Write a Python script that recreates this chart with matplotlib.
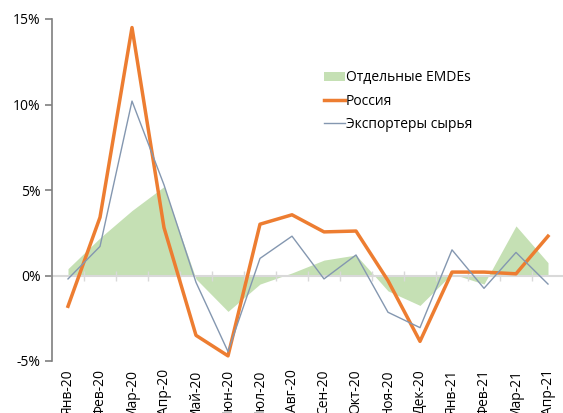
import matplotlib
matplotlib.use("Agg")
import matplotlib.pyplot as plt
from matplotlib.patches import Patch
from matplotlib.lines import Line2D

plt.rcParams['font.family'] = ['Open Sans', 'DejaVu Sans']

months = ['Янв-20', 'Фев-20', 'Мар-20', 'Апр-20', 'Май-20', 'Июн-20', 'Июл-20', 'Авг-20',
          'Сен-20', 'Окт-20', 'Ноя-20', 'Дек-20', 'Янв-21', 'Фев-21', 'Мар-21', 'Апр-21']
emdes = [0.4, 2.2, 3.8, 5.2, -0.2, -2.1, -0.5, 0.15, 0.9, 1.2, -0.9, -1.75, 0.1, -0.5, 2.9, 0.75]
russia = [-1.8, 3.4, 14.5, 2.8, -3.5, -4.7, 3.0, 3.55, 2.55, 2.6, -0.3, -3.85, 0.2, 0.2, 0.1, 2.3]
exporters = [-0.2, 1.7, 10.2, 5.3, -0.4, -4.45, 1.0, 2.3, -0.2, 1.2, -2.15, -3.05, 1.5, -0.75, 1.35, -0.5]

x = list(range(len(months)))

fig = plt.figure(figsize=(5.63, 4.13), dpi=100)
ax = fig.add_axes([52 / 563, 52 / 413, 512 / 563, 342 / 413])

ax.fill_between(x, 0, emdes, color='#c5e0b4', linewidth=0, zorder=1)
ax.plot(x, russia, color='#ed7d31', linewidth=2.5, zorder=3)
ax.plot(x, exporters, color='#8497b0', linewidth=1.0, zorder=4)

ax.set_xlim(-0.5, len(months) - 0.5)
ax.set_ylim(-5, 15)
ax.set_yticks([-5, 0, 5, 10, 15])
ax.set_yticklabels(['-5%', '0%', '5%', '10%', '15%'], fontsize=10)

ax.set_xticks(x)
ax.set_xticklabels(months, rotation=90, fontsize=10, va='top')
ax.tick_params(axis='x', length=0, pad=6)
ax.tick_params(axis='y', length=5, color='#7f7f7f', width=1.2, pad=3)

for s in ['top', 'right', 'bottom']:
    ax.spines[s].set_visible(False)
ax.spines['left'].set_color('#7f7f7f')
ax.spines['left'].set_linewidth(1.2)

# zero axis line with category boundary ticks, drawn above the area
sec = ax.secondary_xaxis(0.25)
sec.spines['bottom'].set_color('#d9d9d9')
sec.spines['bottom'].set_linewidth(1.5)
sec.set_xticks([i + 0.5 for i in x[:-1]])
sec.set_xticklabels([])
sec.tick_params(axis='x', direction='inout', length=7, color='#d9d9d9', width=1)
sec.set_zorder(2)

handles = [Patch(facecolor='#c5e0b4', edgecolor='none'),
           Line2D([0], [0], color='#ed7d31', linewidth=2.5),
           Line2D([0], [0], color='#8497b0', linewidth=1.0)]
labels = ['Отдельные EMDEs', 'Россия', 'Экспортеры сырья']
ax.legend(handles, labels, loc='upper left', bbox_to_anchor=(0.52, 0.866),
          frameon=False, fontsize=10, handlelength=1.5, handletextpad=0.1,
          labelspacing=0.6, borderaxespad=0)

fig.savefig('out.png', dpi=100)
